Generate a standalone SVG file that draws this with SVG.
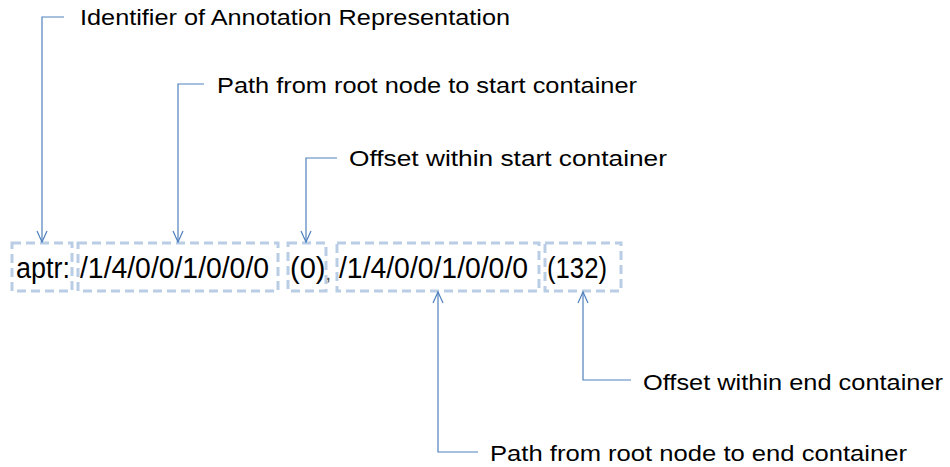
<svg xmlns="http://www.w3.org/2000/svg" width="950" height="467" viewBox="0 0 950 467">
<style>
.box{fill:none;stroke:#B9CDE5;stroke-width:3;stroke-dasharray:9 5}
.main{font-family:"Liberation Sans",Arial,sans-serif;font-size:29px;fill:#000}
.lbl{font-family:"Liberation Sans",Arial,sans-serif;font-size:22.5px;fill:#000}
.conn{fill:none;stroke:#4F81BD;stroke-width:1.2}
</style>
<defs>
<marker id="arr" markerUnits="userSpaceOnUse" markerWidth="14" markerHeight="14" refX="12" refY="6" orient="auto">
<path d="M1,1 L12,6 L1,11" fill="none" stroke="#4F81BD" stroke-width="1.2"/>
</marker>
</defs>
<g id="node-aptr"><rect class="box" x="12" y="243" width="60" height="48"/><text class="main" x="16" y="278" textLength="54" lengthAdjust="spacingAndGlyphs">aptr:</text></g>
<g id="node-startpath"><rect class="box" x="78" y="243" width="200" height="48"/><text class="main" x="80" y="278" textLength="189" lengthAdjust="spacingAndGlyphs">/1/4/0/0/1/0/0/0</text></g>
<g id="node-startoffset"><rect class="box" x="288" y="243" width="38" height="48"/><text class="main" x="290" y="278">(0)<tspan font-size="20" fill="#555" dy="2">,</tspan></text></g>
<g id="node-endpath"><rect class="box" x="337" y="243" width="202" height="48"/><text class="main" x="339" y="278" textLength="189" lengthAdjust="spacingAndGlyphs">/1/4/0/0/1/0/0/0</text></g>
<g id="node-endoffset"><rect class="box" x="545" y="243" width="76" height="48"/><text class="main" x="547" y="278" textLength="60" lengthAdjust="spacingAndGlyphs">(132)</text></g>
<g id="connectors">
<path class="conn" d="M64,17 H42 V242" marker-end="url(#arr)"/>
<path class="conn" d="M204,84 H178 V242" marker-end="url(#arr)"/>
<path class="conn" d="M337,158 H306 V242" marker-end="url(#arr)"/>
<path class="conn" d="M631,380 H583 V292" marker-end="url(#arr)"/>
<path class="conn" d="M478,452 H438 V292" marker-end="url(#arr)"/>
</g>
<g id="label-id"><text class="lbl" x="80" y="25" textLength="430" lengthAdjust="spacingAndGlyphs">Identifier of Annotation Representation</text></g>
<g id="label-startpath"><text class="lbl" x="217" y="93" textLength="420" lengthAdjust="spacingAndGlyphs">Path from root node to start container</text></g>
<g id="label-startoffset"><text class="lbl" x="349" y="166" textLength="318" lengthAdjust="spacingAndGlyphs">Offset within start container</text></g>
<g id="label-endoffset"><text class="lbl" x="643" y="390" textLength="300" lengthAdjust="spacingAndGlyphs">Offset within end container</text></g>
<g id="label-endpath"><text class="lbl" x="490" y="461" textLength="417" lengthAdjust="spacingAndGlyphs">Path from root node to end container</text></g>
</svg>
